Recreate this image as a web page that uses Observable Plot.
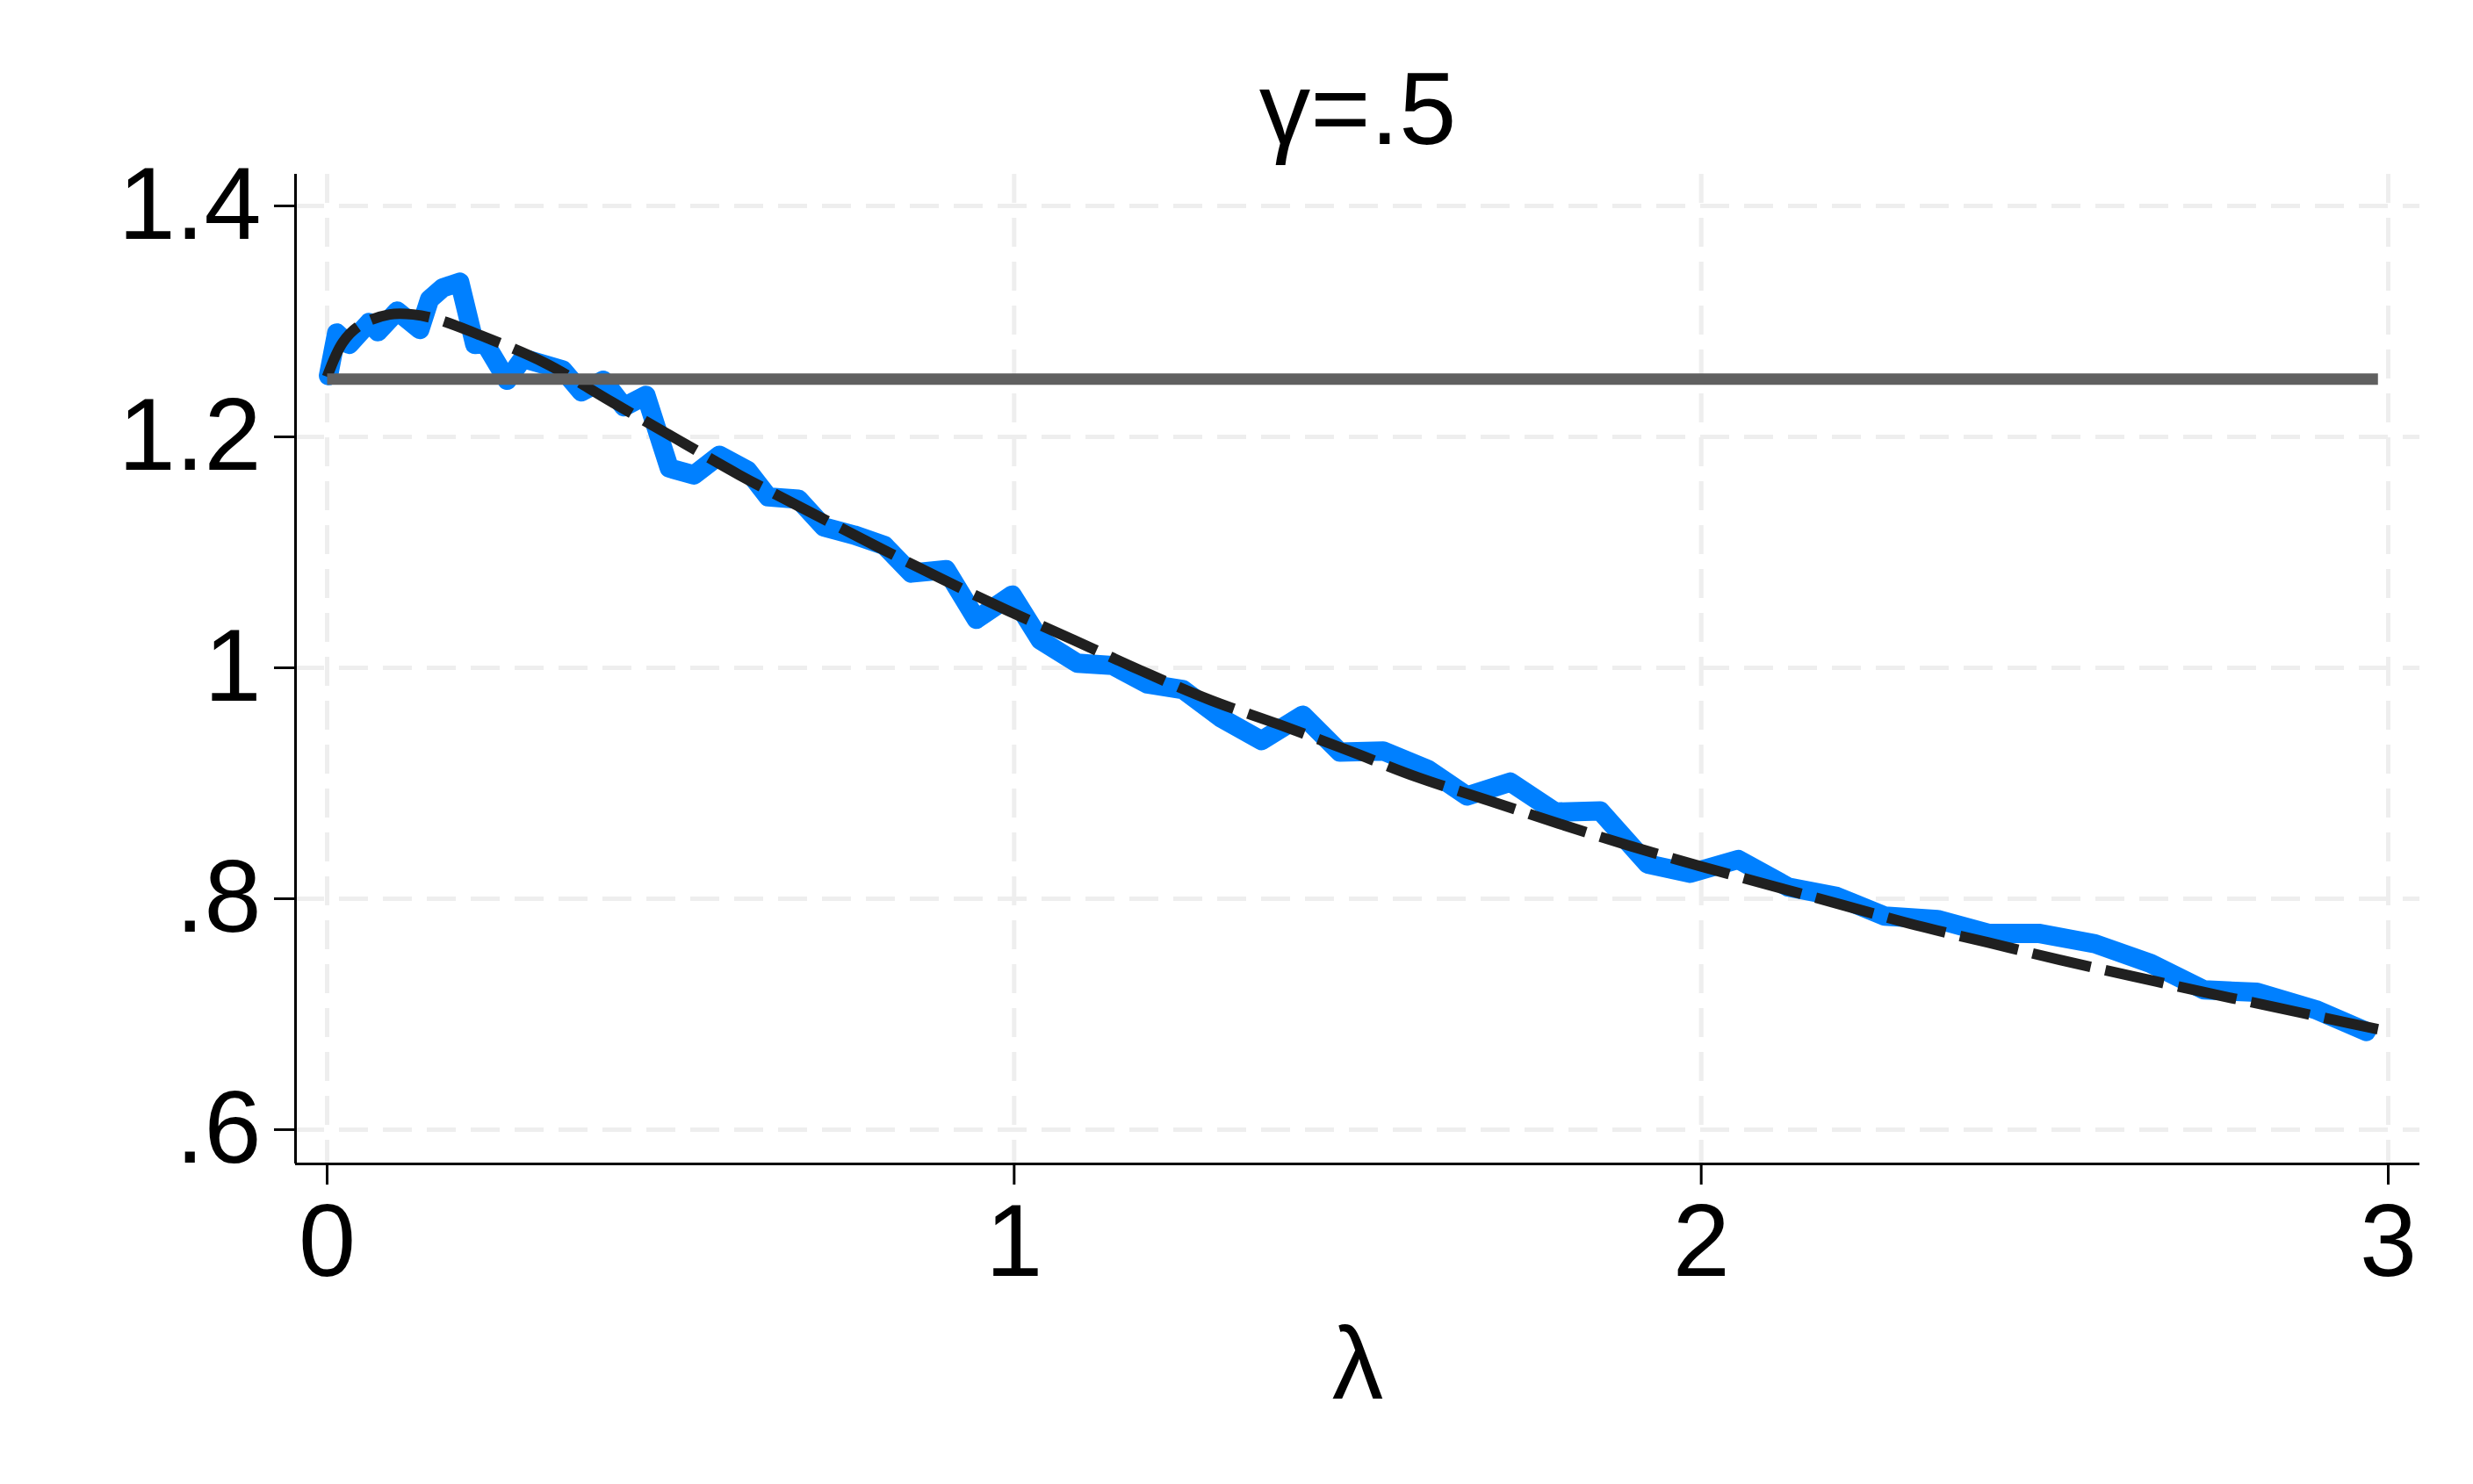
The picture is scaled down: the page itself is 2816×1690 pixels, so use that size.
<!DOCTYPE html>
<html>
<head>
<meta charset="utf-8">
<script src="https://cdn.jsdelivr.net/npm/d3@7"></script>
<script src="https://cdn.jsdelivr.net/npm/@observablehq/plot@0.6"></script>
<style>
  html, body { margin: 0; padding: 0; background: #fff; }
  #chart svg { display: block; }
</style>
</head>
<body>
<div id="chart"></div>
<script>
// ---- data ----
const titleText = "γ=.5";
const xLabel = "λ";

const xTicks = [0, 1, 2, 3];
const xTickLabels = ["0", "1", "2", "3"];
const yTicks = [0.6, 0.8, 1.0, 1.2, 1.4];
const yTickLabels = [".6", ".8", "1", "1.2", "1.4"];

// simulated series (blue, jagged)
const simX = [0.002,0.014,0.032,0.061,0.074,0.102,0.135,0.149,0.168,0.193,0.215,0.230,0.262,0.285,0.343,0.370,0.402,0.432,0.464,0.498,0.534,0.571,0.612,0.642,0.686,0.723,0.767,0.811,0.850,0.901,0.945,0.997,1.038,1.092,1.143,1.194,1.246,1.300,1.360,1.420,1.474,1.537,1.602,1.659,1.722,1.788,1.853,1.922,1.984,2.054,2.127,2.197,2.267,2.344,2.418,2.491,2.573,2.654,2.732,2.809,2.894,2.968];
const simY = [1.253,1.290,1.280,1.299,1.291,1.309,1.293,1.319,1.329,1.334,1.280,1.281,1.249,1.268,1.258,1.239,1.249,1.226,1.236,1.173,1.167,1.184,1.171,1.148,1.146,1.122,1.115,1.106,1.082,1.085,1.042,1.063,1.024,1.004,1.002,0.986,0.981,0.957,0.937,0.959,0.927,0.928,0.912,0.889,0.901,0.875,0.876,0.830,0.822,0.834,0.810,0.802,0.785,0.782,0.770,0.770,0.761,0.744,0.721,0.719,0.704,0.685];

// smooth theoretical curve (black dashed)
const theoX = [0,0.023,0.049,0.091,0.125,0.159,0.223,0.317,0.415,0.509,0.600,0.696,0.794,0.891,0.989,1.087,1.183,1.286,1.385,1.488,1.588,1.691,1.793,1.895,2.000,2.104,2.209,2.313,2.418,2.522,2.627,2.732,2.836,2.944,2.985];
const theoY = [1.252,1.282,1.297,1.306,1.306,1.302,1.288,1.264,1.230,1.198,1.167,1.137,1.107,1.078,1.050,1.024,0.998,0.972,0.951,0.928,0.905,0.885,0.865,0.846,0.828,0.811,0.794,0.777,0.762,0.747,0.733,0.719,0.706,0.692,0.687];

// horizontal reference level (gray)
const refX = [0, 2.985];
const refY = [1.25, 1.25];

// ---- build ----
const sim = simX.map((x, i) => ({x, y: simY[i]}));
const theo = theoX.map((x, i) => ({x, y: theoY[i]}));
const ref = refX.map((x, i) => ({x, y: refY[i]}));

const xDomain = [-0.046, 3.046];
const yDomain = [0.5703, 1.4274];
const FONT = "'Liberation Sans', Arial, Helvetica, sans-serif";
const FS = 117;

const chart = Plot.plot({
  width: 2816,
  height: 1690,
  marginLeft: 336,
  marginRight: 61,
  marginTop: 198,
  marginBottom: 365,
  style: {fontFamily: FONT, background: "#fff", color: "#000"},
  x: {domain: xDomain},
  y: {domain: yDomain},
  marks: [
    Plot.gridX(xTicks, {stroke: "#eeeeee", strokeOpacity: 1, strokeWidth: 5, strokeDasharray: "33,17"}),
    Plot.gridY(yTicks, {stroke: "#eeeeee", strokeOpacity: 1, strokeWidth: 5, strokeDasharray: "33,17"}),
    Plot.line(sim, {x: "x", y: "y", stroke: "#0080ff", strokeWidth: 22, strokeLinejoin: "round", strokeLinecap: "round"}),
    Plot.line(theo, {x: "x", y: "y", stroke: "#202020", strokeWidth: 12, strokeDasharray: "68,17", strokeLinecap: "butt", curve: "catmull-rom"}),
    Plot.line(ref, {x: "x", y: "y", stroke: "#606060", strokeWidth: 13, strokeLinecap: "butt"}),
    Plot.ruleX([xDomain[0]], {stroke: "#000", strokeWidth: 3}),
    Plot.ruleY([yDomain[0]], {stroke: "#000", strokeWidth: 3}),
    Plot.axisX({ticks: xTicks, tickFormat: (d) => xTickLabels[xTicks.indexOf(d)], tickSize: 24, tickPadding: 20, fontSize: FS, strokeWidth: 3, stroke: "#000", fill: "#000", label: null}),
    Plot.axisY({ticks: yTicks, tickFormat: (d) => yTickLabels[yTicks.findIndex(t => Math.abs(t - d) < 1e-9)], tickSize: 24, tickPadding: 15, fontSize: FS, strokeWidth: 3, stroke: "#000", fill: "#000", label: null}),
    Plot.text([titleText], {frameAnchor: "top", lineAnchor: "bottom", dy: -35, text: d => d, fontSize: FS, fill: "#000"}),
    Plot.text([xLabel], {frameAnchor: "bottom", lineAnchor: "bottom", dy: 267, text: d => d, fontSize: FS, fill: "#000"})
  ]
});
document.getElementById("chart").appendChild(chart);
</script>
</body>
</html>
